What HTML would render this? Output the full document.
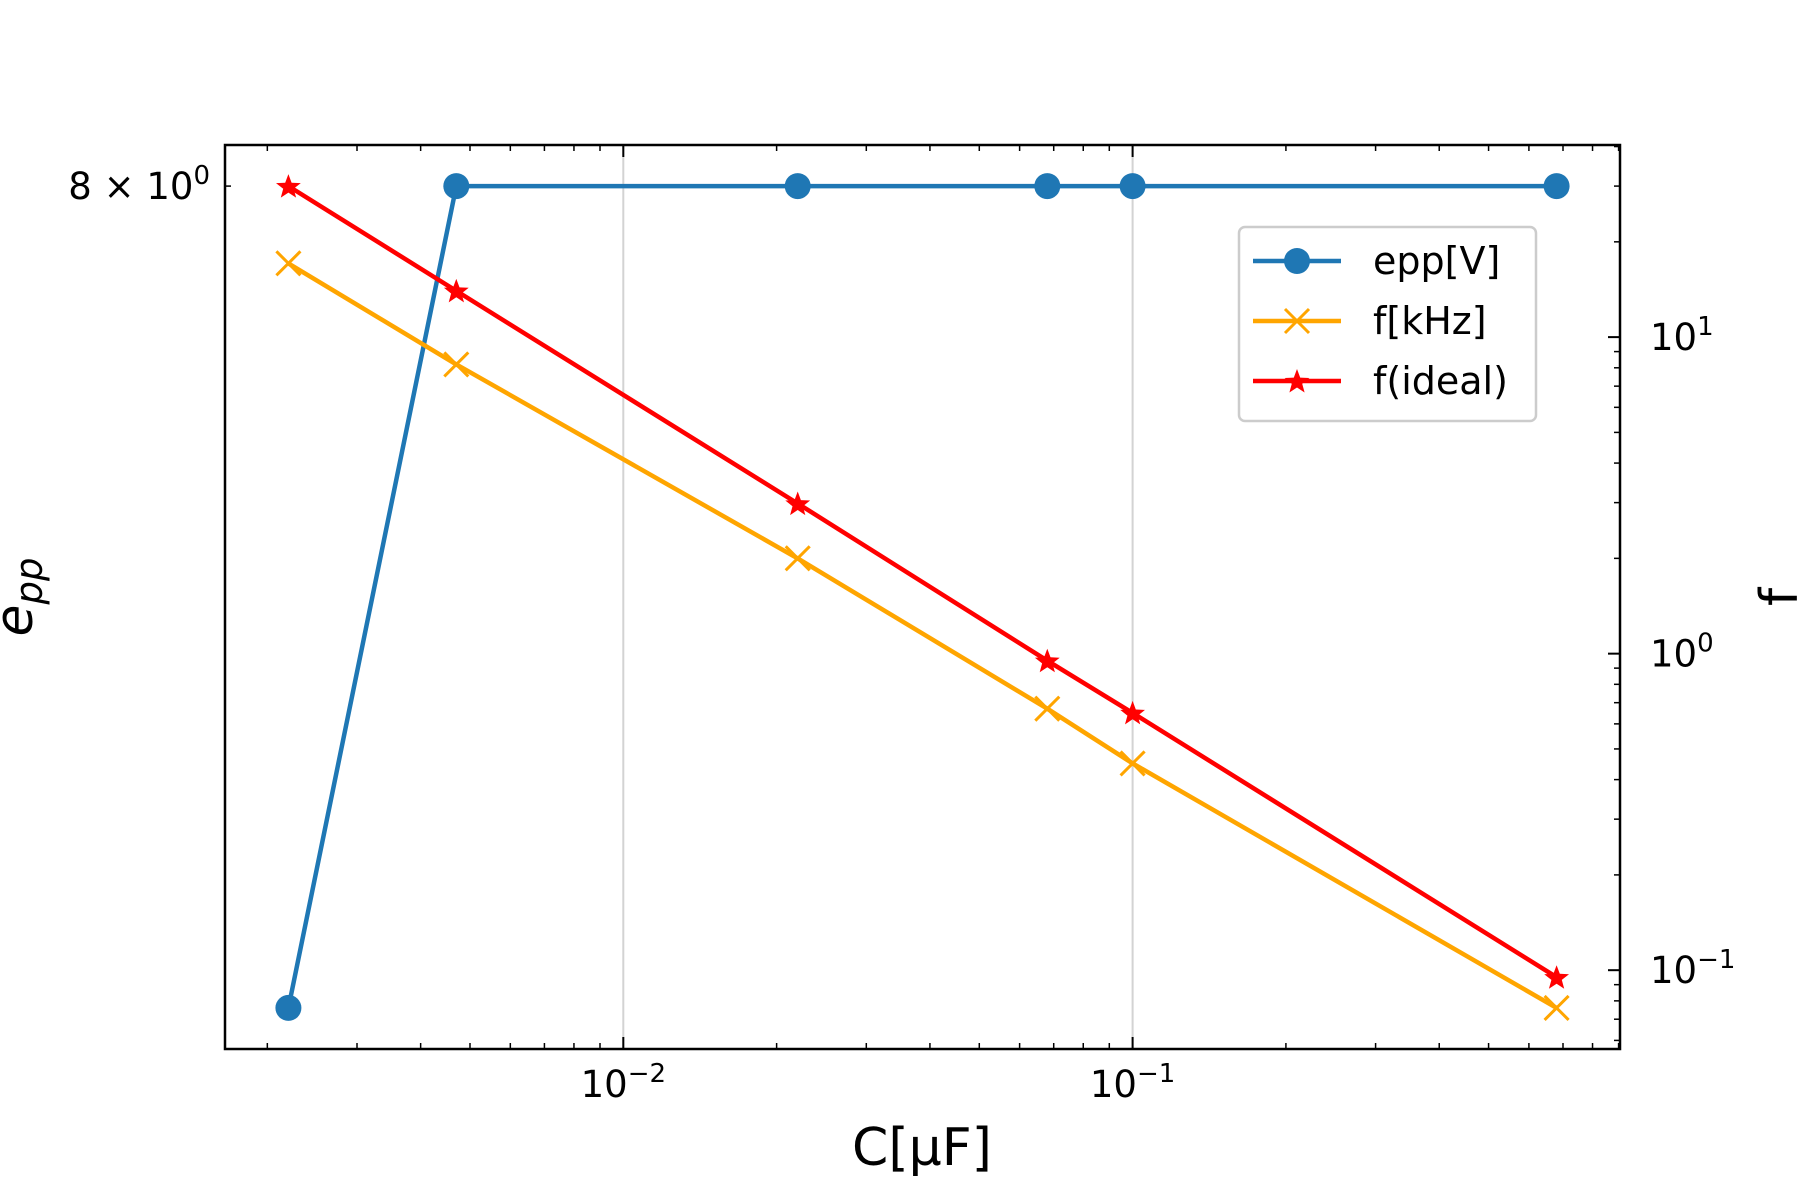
<!DOCTYPE html>
<html><head><meta charset="utf-8"><style>
html,body{margin:0;padding:0;background:#fff;}
svg{display:block;font-family:"DejaVu Sans","Liberation Sans",sans-serif;}
</style></head><body>
<svg id="chart" width="1800" height="1200" viewBox="0 0 1800 1200" xmlns="http://www.w3.org/2000/svg">
<rect x="0" y="0" width="1800" height="1200" fill="#fff"/>
<g id="grid"></g>
<g id="series"></g>
<rect x="225" y="145" width="1395" height="904" fill="none" stroke="#000" stroke-width="2.5"/>
<g id="ticks"></g>
<text x="922" y="1165" font-size="52" text-anchor="middle">C[μF]</text>
<text transform="translate(32,597) rotate(-90)" font-size="52" text-anchor="middle" font-style="italic">e<tspan font-size="37" dy="10">pp</tspan></text>
<text transform="translate(1797,597) rotate(-90)" font-size="52" text-anchor="middle">f</text>
<g>
<rect x="1239" y="227" width="297" height="194" rx="6" fill="#fff" fill-opacity="0.8" stroke="#ccc" stroke-width="2.5"/>
<g>
<line x1="1253" y1="261" x2="1341" y2="261" stroke="#1f77b4" stroke-width="4.5"/>
<circle cx="1297" cy="261" r="13" fill="#1f77b4"/>
<text x="1373" y="274" font-size="38">epp[V]</text></g>
<g>
<line x1="1253" y1="321" x2="1341" y2="321" stroke="#ffa500" stroke-width="4.5"/>
<path d="M1285 309 L1309 333 M1309 309 L1285 333" stroke="#ffa500" stroke-width="3"/>
<text x="1373" y="334" font-size="38">f[kHz]</text></g>
<g>
<line x1="1253" y1="381" x2="1341" y2="381" stroke="#ff0000" stroke-width="4.5"/>
<polygon id="legstar" fill="#ff0000"/>
<text x="1373" y="394" font-size="38">f(ideal)</text></g>
</g>
</svg>
<script>
const capacitance = [0.0022, 0.0047, 0.022, 0.068, 0.1, 0.68];
const eppValues = [7.2, 8, 8, 8, 8, 8];
const fMeasured = [17.1, 8.2, 2.0, 0.67, 0.45, 0.076];
const fIdeal = [30, 14.0, 2.98, 0.95, 0.65, 0.095];
const xTickExps = [-2, -1];
const rightTickExps = [-1, 0, 1];
const leftTickLabels = [8];

const NS = "http://www.w3.org/2000/svg";
const L = 225, R = 1620, T = 145, B = 1049;
const lg = Math.log10;
function limits(vals){const lo=Math.min(...vals.map(lg)),hi=Math.max(...vals.map(lg)),s=hi-lo;return [lo-0.05*s,hi+0.05*s];}
const xl = limits(capacitance);
const X = v => L + (lg(v)-xl[0])/(xl[1]-xl[0])*(R-L);
const yl = limits(eppValues);
const YL = v => B - (lg(v)-yl[0])/(yl[1]-yl[0])*(B-T);
const yr = limits(fMeasured.concat(fIdeal));
const YR = v => B - (lg(v)-yr[0])/(yr[1]-yr[0])*(B-T);

function el(tag, attrs, parent){const e=document.createElementNS(NS,tag);for(const k in attrs)e.setAttribute(k,attrs[k]);parent.appendChild(e);return e;}
const grid=document.getElementById('grid'), ser=document.getElementById('series'), ticks=document.getElementById('ticks');

xTickExps.forEach(e=>{
  const x=X(Math.pow(10,e));
  const g=el('line',{x1:x,y1:T,x2:x,y2:B,stroke:'#d3d3d3','stroke-width':2},grid);
  
  
  el('line',{x1:x,y1:B,x2:x,y2:B-12,stroke:'#000','stroke-width':2},ticks);
  el('line',{x1:x,y1:T,x2:x,y2:T+12,stroke:'#000','stroke-width':2},ticks);
  const t=el('text',{x:x,y:B+48,'font-size':37,'text-anchor':'middle'},ticks);
  
  
  t.innerHTML='10<tspan font-size="26" dy="-15">\u2212'+Math.abs(e)+'</tspan>';
});
for(let e=-3;e<=0;e++)for(let m=2;m<=9;m++){
  const v=m*Math.pow(10,e); const lv=lg(v); if(lv<xl[0]||lv>xl[1])continue;
  const x=X(v);
  el('line',{x1:x,y1:B,x2:x,y2:B-6,stroke:'#000','stroke-width':1.5},ticks);
  el('line',{x1:x,y1:T,x2:x,y2:T+6,stroke:'#000','stroke-width':1.5},ticks);
}
rightTickExps.forEach(e=>{
  const y=YR(Math.pow(10,e));
  el('line',{x1:R,y1:y,x2:R-12,y2:y,stroke:'#000','stroke-width':2},ticks);
  const t=el('text',{x:R+30,y:y+13,'font-size':37},ticks);
  
  
  t.innerHTML='10<tspan font-size="26" dy="-15">'+(e<0?'\u2212'+Math.abs(e):e)+'</tspan>';
});
for(let e=-2;e<=1;e++)for(let m=2;m<=9;m++){
  const v=m*Math.pow(10,e); const lv=lg(v); if(lv<yr[0]||lv>yr[1])continue;
  const y=YR(v);
  el('line',{x1:R,y1:y,x2:R-6,y2:y,stroke:'#000','stroke-width':1.5},ticks);
}
leftTickLabels.forEach(v=>{
  const y=YL(v);
  el('line',{x1:L,y1:y,x2:L+6,y2:y,stroke:'#000','stroke-width':1.5},ticks);
  const t=el('text',{x:210,y:y+13,'font-size':37,'text-anchor':'end'},ticks);
  
  
  t.innerHTML=v+' \u00d7 10<tspan font-size="26" dy="-15">0</tspan>';
});

function starPts(cx,cy,r){let p=[];for(let i=0;i<10;i++){const a=-Math.PI/2+i*Math.PI/5;const rr=i%2?r*0.42:r;p.push((cx+rr*Math.cos(a)).toFixed(1)+','+(cy+rr*Math.sin(a)).toFixed(1));}return p.join(' ');}
document.getElementById('legstar').setAttribute('points',starPts(1297,382,13));

function drawLine(vals, Y, color, name){
  const pts=capacitance.map((c,i)=>X(c).toFixed(1)+','+Y(vals[i]).toFixed(1)).join(' ');
  const p=el('polyline',{points:pts,fill:'none',stroke:color,'stroke-width':4.5,'stroke-linejoin':'round'},ser);
  
  
}
drawLine(eppValues,YL,'#1f77b4','epp');
drawLine(fMeasured,YR,'#ffa500','f-khz');
drawLine(fIdeal,YR,'#ff0000','f-ideal');
capacitance.forEach((c,i)=>{
  const x=X(c);
  const m1=el('circle',{cx:x,cy:YL(eppValues[i]),r:13,fill:'#1f77b4'},ser);
  
  
  const y2=YR(fMeasured[i]);
  const m2=el('path',{d:`M${x-12} ${y2-12} L${x+12} ${y2+12} M${x+12} ${y2-12} L${x-12} ${y2+12}`,stroke:'#ffa500','stroke-width':3},ser);
  
  
  const m3=el('polygon',{points:starPts(x,YR(fIdeal[i])+1,13),fill:'#ff0000'},ser);
  
  
});
</script>
</body></html>
